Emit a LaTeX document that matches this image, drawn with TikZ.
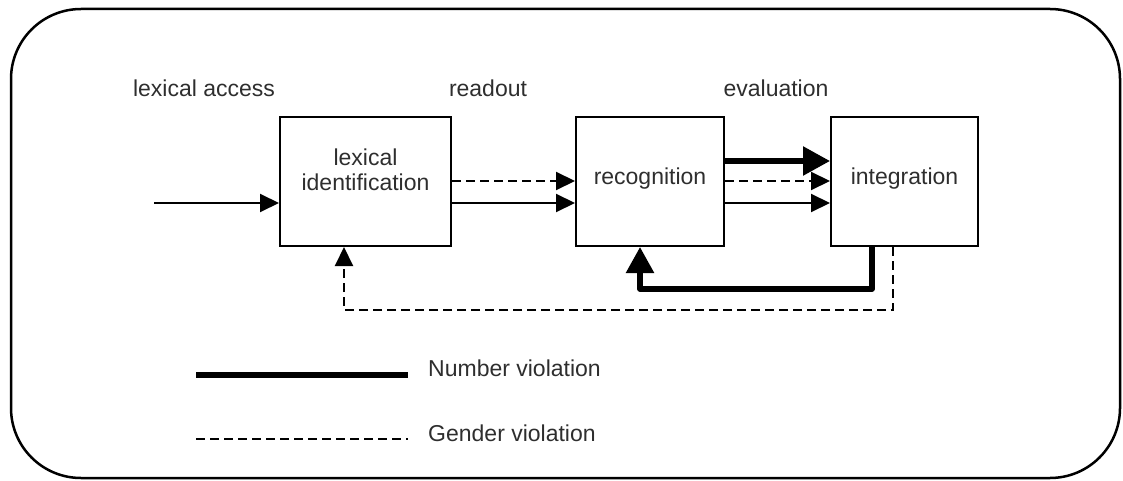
\documentclass[tikz,border=0pt]{standalone}
\usepackage{fontspec}
\setmainfont{Liberation Sans}
\usetikzlibrary{arrows.meta}
\definecolor{txt}{HTML}{2E2E2E}
\tikzset{
  box/.style={draw, line width=2pt, minimum height=129pt, inner sep=0pt, text=txt, font=\fontsize{23}{25}\selectfont, align=center},
  lbl/.style={text=txt, font=\fontsize{23}{25}\selectfont, inner sep=0pt},
  thinar/.style={line width=2pt, -{Triangle[length=19pt,width=18pt]}},
  dashar/.style={line width=2pt, dash pattern=on 9pt off 5pt, -{Triangle[length=19pt,width=18pt]}},
  thickar/.style={line width=5.5pt, -{Triangle[length=27pt,width=28pt]}},
}
\begin{document}
\begin{tikzpicture}[x=1pt,y=-1pt]
\useasboundingbox (0,0) rectangle (1123,481);
\draw[line width=2.5pt, rounded corners=70pt] (11,9) rectangle (1120,478);

\node[box, minimum width=171pt] (b1) at (365.5,181.5) {\raisebox{36pt}{\begin{tabular}{@{}c@{}}lexical\\identification\end{tabular}}};
\node[box, minimum width=148pt] (b2) at (650,181.5) {\raisebox{11pt}{recognition}};
\node[box, minimum width=147pt] (b3) at (904.5,181.5) {\raisebox{11pt}{integration}};

\node[lbl] (la) at (204,88) {lexical access};
\node[lbl] (ro) at (488,88) {readout};
\node[lbl] (ev) at (776,88) {evaluation};

% input
\coordinate (in) at (154,203);
\draw[thinar] (in) -- (in -| b1.west);

% b1 -> b2
\coordinate (y1) at (0,181);
\coordinate (y2) at (0,203);
\draw[dashar] (b1.east |- y1) -- (b2.west |- y1);
\draw[thinar] (b1.east |- y2) -- (b2.west |- y2);

% b2 -> b3
\coordinate (y0) at (0,161);
\draw[thickar] (b2.east |- y0) -- (b3.west |- y0);
\draw[dashar] (b2.east |- y1) -- (b3.west |- y1);
\draw[thinar] (b2.east |- y2) -- (b3.west |- y2);

% feedback
\coordinate (fa) at (872,289);
\coordinate (fb) at (640,289);
\draw[line width=5.5pt, line join=round, -{Triangle[length=26pt,width=27pt]}] (b3.south -| fa) -- (fa) -- (fb) -- (b2.south -| fb);
\coordinate (ga) at (893,310);
\coordinate (gb) at (344,310);
\draw[dashar] (b3.south -| ga) -- (ga) -- (gb) -- (b1.south -| gb);

% legend
\coordinate (l1a) at (196,375);
\coordinate (l1b) at (408,375);
\draw[line width=5.5pt] (l1a) -- (l1b);
\node[lbl, anchor=west] (nv) at (428,368) {Number violation};
\coordinate (l2a) at (196,439);
\coordinate (l2b) at (408,439);
\draw[line width=2.2pt, dash pattern=on 9pt off 5pt] (l2a) -- (l2b);
\node[lbl, anchor=west] (gv) at (428,433) {Gender violation};
\end{tikzpicture}
\end{document}
